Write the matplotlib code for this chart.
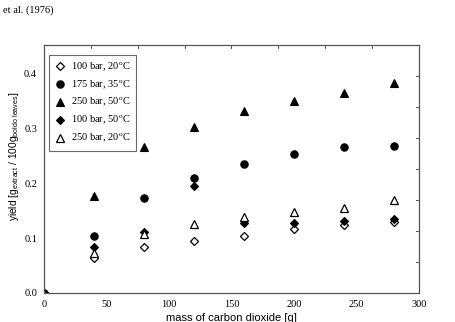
import matplotlib
matplotlib.use("Agg")
import matplotlib.pyplot as plt
import numpy as np

x = [0, 40, 80, 120, 160, 200, 240, 280]
y_100_20 = [0, 0.064, 0.084, 0.094, 0.104, 0.116, 0.124, 0.129]
y_175_35 = [0, 0.104, 0.173, 0.210, 0.234, 0.252, 0.265, 0.267]
y_250_50 = [0, 0.177, 0.265, 0.302, 0.331, 0.350, 0.363, 0.381]
y_100_50 = [0, 0.084, 0.111, 0.195, 0.127, 0.128, 0.131, 0.134]
y_250_20 = [0, 0.073, 0.108, 0.125, 0.139, 0.148, 0.154, 0.169]
labels = [r"100 bar, 20$^{\mathrm{o}}$C", r"175 bar, 35$^{\mathrm{o}}$C",
          r"250 bar, 50$^{\mathrm{o}}$C", r"100 bar, 50$^{\mathrm{o}}$C",
          r"250 bar, 20$^{\mathrm{o}}$C"]
xticks = [0, 50, 100, 150, 200, 250, 300]
yticks = [0.0, 0.1, 0.2, 0.3, 0.4]

plt.rcParams['mathtext.fontset'] = 'custom'
plt.rcParams['mathtext.rm'] = 'Liberation Serif'
plt.rcParams['mathtext.sf'] = 'Liberation Sans'

fig = plt.figure(figsize=(4.56, 3.22), dpi=100)
W, H = 456, 322
L, R, T, B = 44, 419, 45, 293
ax = fig.add_axes([L / W, 1 - B / H, (R - L) / W, (B - T) / H])

serif = 'Liberation Serif'
sans = 'Liberation Sans'

styles = [
    dict(marker='D', mfc='white', mec='black', ms=4.0, mew=0.9),
    dict(marker='o', mfc='black', mec='black', ms=5.3, mew=0.8),
    dict(marker='^', mfc='black', mec='black', ms=5.6, mew=0.8),
    dict(marker='D', mfc='black', mec='black', ms=4.0, mew=0.8),
    dict(marker='^', mfc='white', mec='black', ms=5.4, mew=0.9),
]
series = [y_100_20, y_175_35, y_250_50, y_100_50, y_250_20]
for ys, st, lab in zip(series, styles, labels):
    ax.plot(x, ys, linestyle='none', label=lab, **st)

ax.set_xlim(0, 300)
ax.set_ylim(0, 0.451)
ax.set_xticks(xticks)
ax.set_yticks(yticks)
ax.set_xticklabels([str(v) for v in xticks], fontfamily=serif, fontsize=7.5)
ax.set_yticklabels([f"{v:.1f}" for v in yticks], fontfamily=serif, fontsize=7.5)
ax.tick_params(axis='both', length=0, pad=5)

for s in ax.spines.values():
    s.set_color('#555555')
    s.set_linewidth(0.9)

# inner ticks on top and right edges
for k in range(1, 8):
    ax.plot([k * 300 / 8] * 2, [0.451, 0.451 - 0.006], color='#555555', lw=0.7, clip_on=False)
    ax.plot([300, 300 - 2.5], [k * 0.451 / 8] * 2, color='#555555', lw=0.7, clip_on=False)

ax.set_xlabel("mass of carbon dioxide [g]", fontfamily=sans, fontsize=8, labelpad=3)
ax.set_ylabel(r"yield [g$_{\mathsf{extract}}$ / 100g$_{\mathsf{boldo\ leaves}}$]",
              fontfamily=sans, fontsize=7.3, labelpad=4)
ax.yaxis.set_label_coords(-0.062, 0.55)

leg = ax.legend(loc='upper left', bbox_to_anchor=(0.013, 0.96), frameon=True,
                borderaxespad=0.0,
                fancybox=False, edgecolor='#444444', prop={'family': serif, 'size': 7.5},
                handletextpad=0.6, labelspacing=0.45, borderpad=0.55, handlelength=1.0)
leg.get_frame().set_linewidth(0.8)

fig.text(3 / W, 1 - 10 / H, "et al. (1976)", fontfamily=serif, fontsize=7.5,
         va='center', ha='left')

fig.savefig("out.png", dpi=100)
